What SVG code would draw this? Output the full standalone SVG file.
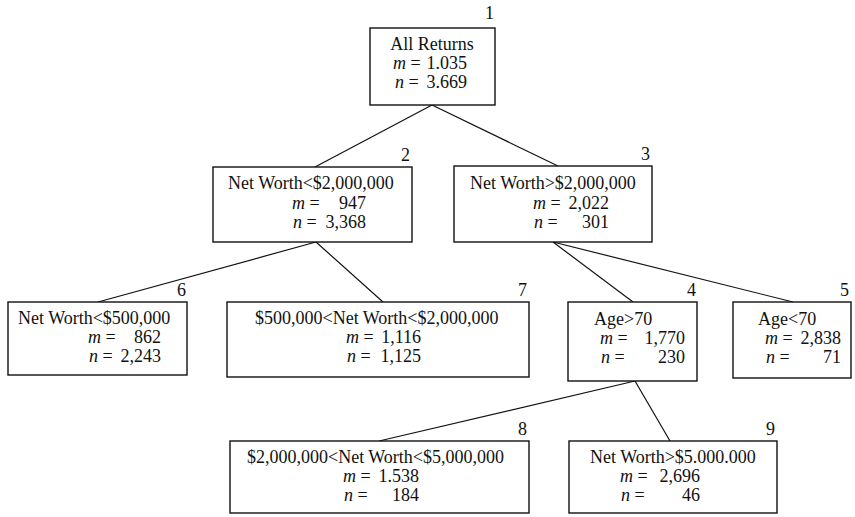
<svg xmlns="http://www.w3.org/2000/svg" width="855" height="517" viewBox="0 0 855 517">
<style>
text{font-family:"Liberation Serif","Times New Roman",serif;font-size:18px;fill:#111}
.i{font-style:italic}
.e{text-anchor:end}
.c{text-anchor:middle}
rect{fill:#fff;stroke:#111;stroke-width:1.4}
#connectors line{stroke:#111;stroke-width:1.2}
</style>
<rect x="0" y="0" width="855" height="517" style="fill:#fff;stroke:none"/>
<g id="connectors">
<line x1="432" y1="105" x2="315" y2="167"/>
<line x1="432" y1="105" x2="558" y2="166"/>
<line x1="316" y1="242" x2="98" y2="302"/>
<line x1="316" y1="242" x2="383" y2="302"/>
<line x1="553" y1="242" x2="633" y2="302"/>
<line x1="553" y1="242" x2="793" y2="302"/>
<line x1="635" y1="381" x2="379" y2="441"/>
<line x1="635" y1="381" x2="670" y2="441"/>
</g>
<g id="node1">
<rect x="370" y="28" width="125" height="77"/>
<text class="e" x="494" y="19">1</text>
<text class="c" x="432" y="50">All Returns</text>
<text x="393" y="69"><tspan class="i">m</tspan> =</text><text class="e" x="467" y="69">1.035</text>
<text x="395" y="88"><tspan class="i">n</tspan> =</text><text class="e" x="467" y="88">3.669</text>
</g>
<g id="node2">
<rect x="213" y="167" width="199" height="75"/>
<text class="e" x="410" y="161">2</text>
<text x="228" y="189">Net Worth&lt;$2,000,000</text>
<text x="292" y="209"><tspan class="i">m</tspan> =</text><text class="e" x="366" y="209">947</text>
<text x="293" y="228"><tspan class="i">n</tspan> =</text><text class="e" x="366" y="228">3,368</text>
</g>
<g id="node3">
<rect x="454" y="166" width="198" height="76"/>
<text class="e" x="650" y="160">3</text>
<text x="470" y="189">Net Worth&gt;$2,000,000</text>
<text x="533" y="209"><tspan class="i">m</tspan> =</text><text class="e" x="609" y="209">2,022</text>
<text x="534" y="228"><tspan class="i">n</tspan> =</text><text class="e" x="609" y="228">301</text>
</g>
<g id="node6">
<rect x="8" y="302" width="179" height="73"/>
<text class="e" x="186" y="296">6</text>
<text x="18" y="324">Net Worth&lt;$500,000</text>
<text x="88" y="343"><tspan class="i">m</tspan> =</text><text class="e" x="161" y="343">862</text>
<text x="89" y="362"><tspan class="i">n</tspan> =</text><text class="e" x="161" y="362">2,243</text>
</g>
<g id="node7">
<rect x="227" y="302" width="302" height="75"/>
<text class="e" x="527" y="296">7</text>
<text x="255" y="324">$500,000&lt;Net Worth&lt;$2,000,000</text>
<text x="346" y="343"><tspan class="i">m</tspan> =</text><text class="e" x="421" y="343">1,116</text>
<text x="347" y="362"><tspan class="i">n</tspan> =</text><text class="e" x="421" y="362">1,125</text>
</g>
<g id="node4">
<rect x="568" y="302" width="129" height="79"/>
<text class="e" x="696" y="296">4</text>
<text x="594" y="325">Age&gt;70</text>
<text x="600" y="344"><tspan class="i">m</tspan> =</text><text class="e" x="685" y="344">1,770</text>
<text x="601" y="363"><tspan class="i">n</tspan> =</text><text class="e" x="685" y="363">230</text>
</g>
<g id="node5">
<rect x="733" y="302" width="118" height="76"/>
<text class="e" x="849" y="296">5</text>
<text x="758" y="325">Age&lt;70</text>
<text x="765" y="344"><tspan class="i">m</tspan> =</text><text class="e" x="841" y="344">2,838</text>
<text x="766" y="363"><tspan class="i">n</tspan> =</text><text class="e" x="841" y="363">71</text>
</g>
<g id="node8">
<rect x="230" y="441" width="299" height="72"/>
<text class="e" x="527" y="435">8</text>
<text x="247" y="463">$2,000,000&lt;Net Worth&lt;$5,000,000</text>
<text x="343" y="482"><tspan class="i">m</tspan> =</text><text class="e" x="419" y="482">1.538</text>
<text x="344" y="501"><tspan class="i">n</tspan> =</text><text class="e" x="419" y="501">184</text>
</g>
<g id="node9">
<rect x="569" y="441" width="208" height="72"/>
<text class="e" x="775" y="435">9</text>
<text x="590" y="463">Net Worth&gt;$5.000.000</text>
<text x="620" y="482"><tspan class="i">m</tspan> =</text><text class="e" x="700" y="482">2,696</text>
<text x="621" y="501"><tspan class="i">n</tspan> =</text><text class="e" x="700" y="501">46</text>
</g>
</svg>
